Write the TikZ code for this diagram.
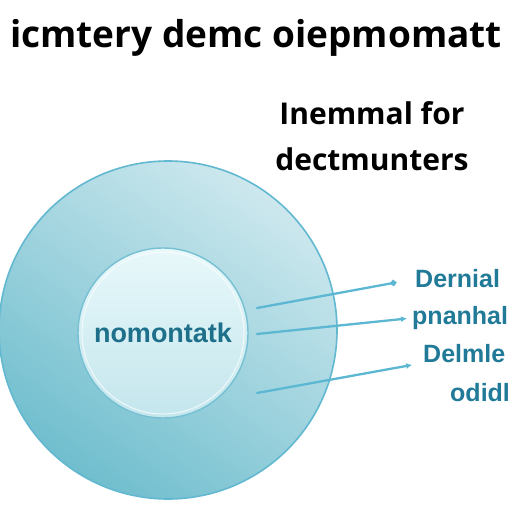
\documentclass[tikz,border=0pt]{standalone}
\usepackage{fontspec}
\setmainfont{DejaVu Sans}
\newfontfamily\headfont{Open Sans}
\newfontfamily\labfont{Liberation Sans}
\usepackage{tikz}
\usetikzlibrary{positioning,arrows.meta,calc}
\definecolor{ringlight}{RGB}{205,232,238}
\definecolor{ringdark}{RGB}{112,190,206}
\definecolor{ringline}{RGB}{ 98,184,208}
\definecolor{corelight}{RGB}{232,248,250}
\definecolor{coredark}{RGB}{196,230,237}
\definecolor{coreline}{RGB}{118,192,212}
\definecolor{leadline}{RGB}{ 92,184,210}
\definecolor{labtext}{RGB}{ 32,122,152}
\definecolor{coretext}{RGB}{ 30,112,138}

\begin{document}
\begin{tikzpicture}[
    x=1pt,y=-1pt,
    outerring/.style={circle,draw=ringline,line width=1.6pt,minimum size=338pt,
                      top color=ringlight,bottom color=ringdark,shading angle=-35},
    corering/.style={circle,draw=coreline,line width=1.4pt,minimum size=170pt,
                     top color=corelight,bottom color=coredark},
    rim/.style={circle,draw=white,line width=1pt,opacity=0.7,minimum size=162pt},
    headline/.style={font=\headfont\bfseries\fontsize{37}{40}\selectfont,text=black},
    subhead/.style={font=\headfont\bfseries\fontsize{30}{46}\selectfont,text=black,align=center},
    sidelab/.style={font=\labfont\bfseries\fontsize{25}{26}\selectfont,text=labtext,anchor=west,inner sep=0pt},
    lead/.style={draw=leadline,line width=2.3pt,line cap=round},
]
\useasboundingbox[fill=white] (0,0) rectangle (512,512);

% --- headings ---
\node[headline] (title) at (256,38) {icmtery demc oiepmomatt};
\node[subhead] (sub) at (372,136) {Inemmal for\\dectmunters};

% --- rings ---
\node[outerring] (outer) at (168,330) {};
\node[corering]  (core)  at (163,333) {};
\node[rim] (corerim) at (163,333) {};
\node[font=\labfont\bfseries\fontsize{27}{28}\selectfont,text=coretext] (corelab) at (core) {nomontatk};

% --- side labels ---
\node[sidelab] (lab1) at (415,279) {Dernial};
\node[sidelab] (lab2) at (412,318) {pnanhal};
\node[sidelab] (lab3) at (423,354) {Delmle};
\node[sidelab] (lab4) at (450,393) {odidl};

% leader lines
\coordinate (s1) at (257,308);
\coordinate (s2) at (257,334);
\coordinate (s3) at (257,393);
\draw[lead,-{Circle[length=6pt]},shorten >=19pt] (s1) -- (lab1.west);
\draw[lead,-{Latex[length=6pt,width=6pt]},shorten >=5pt] (s2) -- (lab2.west);
\draw[lead,-{Latex[length=6pt,width=6pt]},shorten >=11pt] (s3) -- (lab3.base west);
\end{tikzpicture}
\end{document}
